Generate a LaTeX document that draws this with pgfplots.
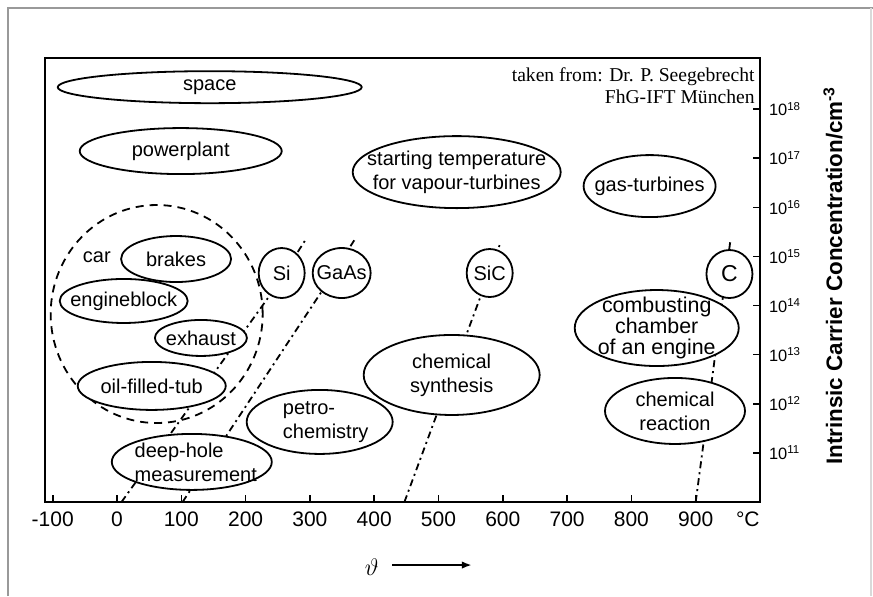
\documentclass[border=0pt]{standalone}
\usepackage{fontspec}
\setmainfont{Liberation Sans}
\newfontfamily\creditfont{Liberation Serif}
\usepackage{pgfplots}
\pgfplotsset{compat=1.18}
\usetikzlibrary{arrows.meta}
\tikzset{blob/.style={draw=black, line width=0.9pt, fill=white}}

\begin{document}
\begin{tikzpicture}
\useasboundingbox (-22.5pt,-47pt) rectangle (414pt,251pt);
% grey frame of the scanned figure
\draw[black!40, line width=0.6pt] (-18.5pt,-47pt) -- (-18.5pt,247pt) -- (414pt,247pt);
\draw[black!15, line width=0.6pt] (413pt,247pt) -- (413pt,-47pt);
\begin{axis}[
    at={(0,0)}, anchor=south west,
    scale only axis, width=357.5pt, height=222pt,
    xmin=-112, xmax=1000,
    ymode=log, ymin=1e10, ymax=1.1e19,
    clip=false,
    axis line style={line width=1pt},
    tick align=inside,
    major tick length=3.5pt,
    tick style={black, line width=0.8pt},
    xtick pos=left, ytick pos=right,
    yticklabel pos=right,
    xtick={-100,0,100,200,300,400,500,600,700,800,900},
    xticklabels={-100,0,100,200,300,400,500,600,700,800,900},
    extra x ticks={981},
    extra x tick labels={°C},
    extra x tick style={major tick length=0pt},
    xticklabel style={font=\fontsize{10.5}{12}\selectfont, yshift=-1.5pt},
    ytick={1e11,1e12,1e13,1e14,1e15,1e16,1e17,1e18},
    yticklabels={10\textsuperscript{11},10\textsuperscript{12},10\textsuperscript{13},10\textsuperscript{14},
                 10\textsuperscript{15},10\textsuperscript{16},10\textsuperscript{17},10\textsuperscript{18}},
    yminorticks=false,
    yticklabel style={font=\fontsize{8.2}{9.6}\selectfont, xshift=1pt},
    xlabel={$\vartheta$},
    xlabel style={at={(axis description cs:0.457,-0.146)}, anchor=center, font=\fontsize{12}{14}\selectfont},
    ylabel={Intrinsic Carrier Concentration/cm\textsuperscript{-3}},
    ylabel style={font=\fontsize{11.2}{13}\selectfont\bfseries, at={(axis description cs:1,0.51)}, anchor=center, yshift=-36.5pt},
    every node/.append style={font=\fontsize{10.7}{11.8}\selectfont},
]
% intrinsic carrier concentration lines
\addplot[black, line width=0.9pt, dash pattern=on 3.5pt off 2pt on 1pt off 2pt]
    coordinates {(7,1e10) (237,1.57e14) (295,2.37e15)};      % Si
\addplot[black, line width=0.9pt, dash pattern=on 3.5pt off 2pt on 1pt off 2pt]
    coordinates {(102,1e10) (318,1.91e14) (369,2.14e15)};    % GaAs
\addplot[black, line width=0.9pt, dash pattern=on 3.5pt off 2pt on 1pt off 2pt]
    coordinates {(447,1e10) (497,5.9e11) (595,1.70e15)};     % SiC
\addplot[black, line width=0.9pt, dash pattern=on 3.5pt off 2pt on 1pt off 2pt]
    coordinates {(900,1e10) (954,2.14e15)};                  % C

% application areas
\draw[blob] (axis cs:144.2,2.8e18) ellipse [x radius=76pt, y radius=8pt] node {space};
\draw[blob] (axis cs:99.1,1.40e17) ellipse [x radius=50.5pt, y radius=11.5pt] node {powerplant};
\draw[blob] (axis cs:528.3,5.22e16) ellipse [x radius=52pt, y radius=18pt]
    node[align=center] {starting temperature\\for vapour-turbines};
\draw[blob] (axis cs:828.3,2.71e16) ellipse [x radius=33pt, y radius=15.5pt] node {gas-turbines};

\draw[black, line width=0.9pt, dash pattern=on 4pt off 3pt] (axis cs:61.7,6.73e13) ellipse [x radius=53pt, y radius=54.5pt];
\node at (axis cs:-31.4,9.73e14) {car};
\draw[blob] (axis cs:91.9,8.87e14) ellipse [x radius=27.5pt, y radius=11.5pt] node {brakes};
\draw[blob] (axis cs:10.4,1.24e14) ellipse [x radius=32pt, y radius=11pt] node {engineblock};
\draw[blob] (axis cs:130.5,2.19e13) ellipse [x radius=23pt, y radius=9pt] node {exhaust};
\draw[blob] (axis cs:54,2.31e12) ellipse [x radius=37pt, y radius=12pt] node {oil-filled-tub};
\draw[blob] (axis cs:116.3,6.55e10) ellipse [x radius=40pt, y radius=14pt]
    node[align=left, xshift=2pt] {deep-hole\\measurement};

\draw[blob] (axis cs:256.1,4.6e14) ellipse [x radius=11.5pt, y radius=12.5pt] node {Si};
\draw[blob] (axis cs:349.4,4.6e14) ellipse [x radius=14.5pt, y radius=12.5pt] node {GaAs};
\draw[blob] (axis cs:579.6,4.6e14) ellipse [x radius=11.5pt, y radius=12pt] node {SiC};
\draw[blob] (axis cs:952.5,4.39e14) ellipse [x radius=11.5pt, y radius=12pt] node[font=\fontsize{11.5}{12}\selectfont] {C};

\draw[blob] (axis cs:315.2,4.27e11) ellipse [x radius=36.5pt, y radius=16pt]
    node[align=left, xshift=3pt] {petro-\\chemistry};
\draw[blob] (axis cs:520.5,3.86e12) ellipse [x radius=44pt, y radius=20pt]
    node[align=center] {chemical\\synthesis};
\draw[blob] (axis cs:839.4,3.49e13) ellipse [x radius=41pt, y radius=19pt]
    node[align=center, font=\fontsize{10.7}{10.6}\selectfont] {combusting\\chamber\\of an engine};
\draw[blob] (axis cs:867.8,7.14e11) ellipse [x radius=35pt, y radius=16.5pt]
    node[align=center] {chemical\\reaction};

% source note
\node[anchor=base east, inner sep=0pt, font=\creditfont\fontsize{9.8}{11}\selectfont] at (axis description cs:0.993,0.947) {taken from: Dr. P. Seegebrecht};
\node[anchor=base east, inner sep=0pt, font=\creditfont\fontsize{9.8}{11}\selectfont] at (axis description cs:0.993,0.898) {FhG-IFT München};

% arrow beside the temperature symbol
\draw[-{Latex[length=5pt]}, line width=1pt] (axis description cs:0.486,-0.142) -- (axis description cs:0.597,-0.142);
\end{axis}
\end{tikzpicture}
\end{document}
